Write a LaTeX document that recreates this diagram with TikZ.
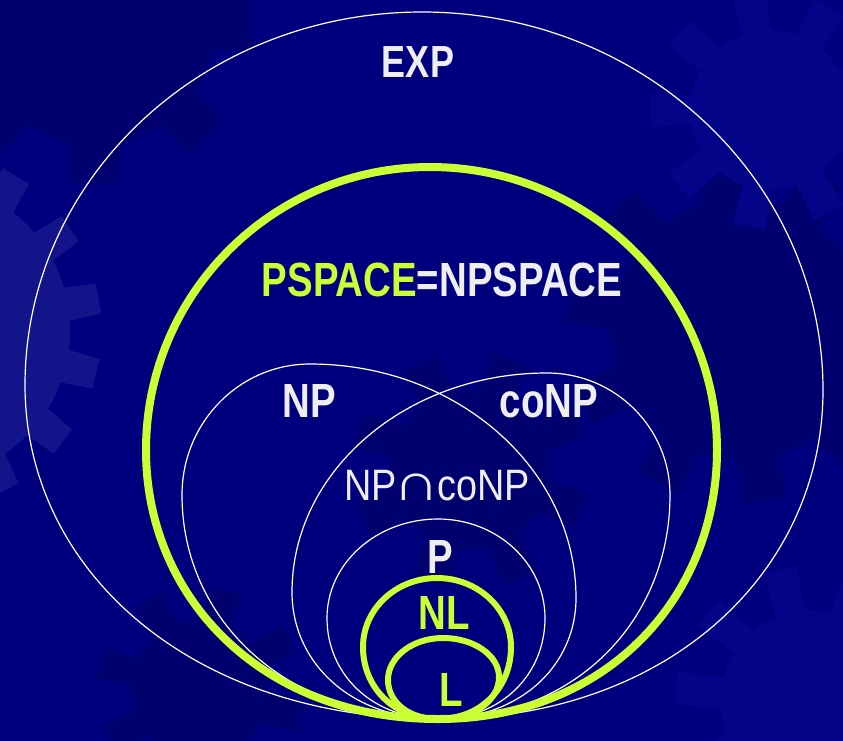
\documentclass[tikz,border=0pt]{standalone}
\usepackage{fontspec}
\usepackage{graphicx}
\newfontfamily\cfont{Liberation Sans}[FakeStretch=0.8]
\newfontfamily\rfont{Liberation Sans}[FakeStretch=0.86]
\definecolor{bg}{RGB}{0,0,126}
\definecolor{bgdark}{RGB}{0,0,110}
\definecolor{bglight}{RGB}{20,20,138}
\definecolor{bglight2}{RGB}{4,4,136}
\definecolor{lime}{RGB}{204,255,51}
\definecolor{txt}{RGB}{238,238,238}
\tikzset{
  thinline/.style={draw=white, line width=1.2pt, line cap=round},
  thickline/.style={draw=lime, line width=8pt, line cap=round},
  medline/.style={draw=lime, line width=6pt, line cap=round},
  lbl/.style={inner sep=0pt, anchor=base, text=txt,
    font=\cfont\bfseries\fontsize{48}{48}\selectfont},
  lblreg/.style={inner sep=0pt, anchor=base, text=txt,
    font=\rfont\fontsize{44}{44}\selectfont},
}
\def\kk{0.5523}
\def\kv{0.5523}
\def\kb{0.6}
% egg: style, B(x,y), L(x,y), T(x,y), R(x,y)
\newcommand\egg[9]{%
  \draw[#1] (#2,#3) .. controls ({#2-\kb*(#2-#4)},#3) and (#4,{#5+\kv*(#3-#5)}) .. (#4,#5)
    .. controls (#4,{#5-\kk*(#5-#7)}) and ({#6-\kk*(#6-#4)},#7) .. (#6,#7)
    .. controls ({#6+\kk*(#8-#6)},#7) and (#8,{#9-\kk*(#9-#7)}) .. (#8,#9)
    .. controls (#8,{#9+\kv*(#3-#9)}) and ({#2+\kb*(#8-#2)},#3) .. (#2,#3);}
% gear: cx, cy, body radius, tip radius, teeth, rotation, colour
\newcommand\gear[7]{%
  \fill[#7] (#1,#2) circle[radius=#3];
  \pgfmathsetmacro\gstep{360/#5}
  \foreach \k in {1,...,#5}{
    \pgfmathsetmacro\ga{#6+\k*\gstep}
    \fill[#7] ([shift={(#1,#2)}]{\ga-0.28*\gstep}:{#3-5}) -- ([shift={(#1,#2)}]{\ga-0.2*\gstep}:#4)
      -- ([shift={(#1,#2)}]{\ga+0.2*\gstep}:#4) -- ([shift={(#1,#2)}]{\ga+0.28*\gstep}:{#3-5}) -- cycle;
  }}
\begin{document}
\begin{tikzpicture}[x=1pt,y=-1pt]
\useasboundingbox (0,0) rectangle (843,740);
\fill[bg] (-6,-6) rectangle (849,746);
\begin{scope}
\clip (-6,-6) rectangle (849,746);
\gear{95}{25}{120}{160}{8}{0}{bgdark}
\gear{-80}{330}{150}{182}{15}{-34}{bglight}
\gear{740}{330}{130}{175}{10}{10}{bgdark}
\gear{810}{700}{90}{135}{10}{5}{bglight2}
\gear{770}{110}{80}{120}{9}{20}{bglight2}
\gear{470}{470}{80}{120}{8}{20}{bgdark}
\gear{200}{690}{70}{105}{8}{15}{bgdark}
\end{scope}
% classes
\egg{thinline}{438}{719}{25}{385}{422}{12}{823}{390}
\egg{thinline}{438}{719}{182}{495}{310}{364}{576}{598}
\egg{thinline}{438}{719}{292}{592}{547}{373}{670}{495}
\egg{thinline}{438}{719}{327}{618}{438}{519}{545}{618}
\egg{thickline}{438}{719}{146}{450}{430}{167}{717}{450}
\egg{medline}{438}{719}{363}{647}{437}{578}{511}{647}
\egg{medline}{438}{719}{388}{680}{443}{638}{499}{677}
% labels
\node[lbl, font=\cfont\bfseries\fontsize{45}{45}\selectfont] (exp) at (418,77.5) {EXP};
\node[lbl] (pspace) at (442,296) {\textcolor{lime}{PSPACE}=NPSPACE};
\node[lbl] (np) at (309,417) {NP};
\node[lbl] (conp) at (549,417) {coNP};
\node[lblreg] (npconp) at (437,500) {NP\kern-3pt\scalebox{1.7}[1.2]{∩}\kern-3pt coNP};
\node[lbl] (p) at (440.5,573) {P};
\node[lbl, text=lime] (nl) at (444,629.5) {NL};
\node[lbl, text=lime] (l) at (451,706.7) {L};
\end{tikzpicture}
\end{document}
